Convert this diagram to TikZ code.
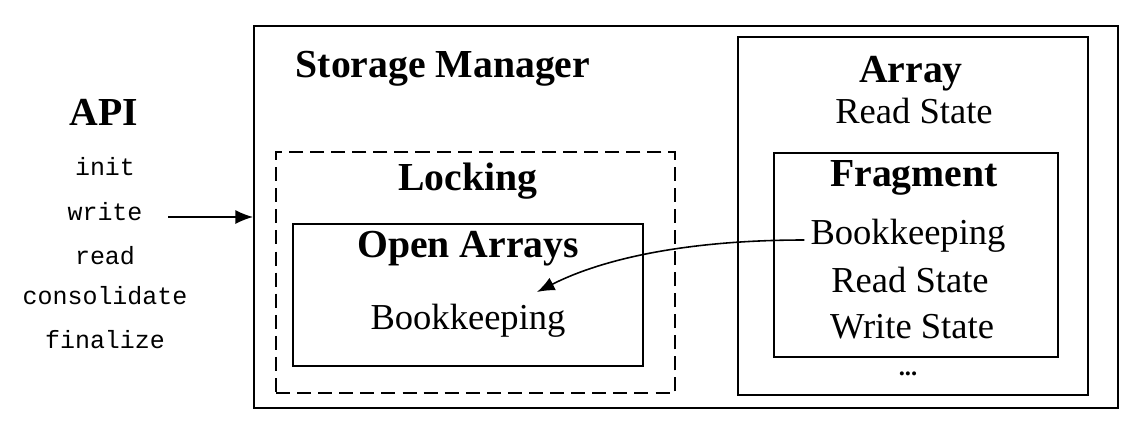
\documentclass[tikz,border=0pt]{standalone}
\usepackage{fontspec}
\setmainfont{Liberation Serif}
\setmonofont{Liberation Mono}
\usepackage{tikz}
\usetikzlibrary{fit, arrows.meta}

\begin{document}
\begin{tikzpicture}[x=0.02cm, y=-0.02cm,
	box/.style={draw, inner sep=0pt, line width=0.8pt},
	title/.style={font=\fontsize{22.6}{26}\selectfont\bfseries},
	txt/.style={font=\fontsize{20.8}{24}\selectfont},
	call/.style={font=\fontsize{14.2}{17}\selectfont\ttfamily},
	arr/.style={-{Latex[length=10pt, width=8pt]}, line width=0.9pt}]
	\useasboundingbox (0,0) rectangle (1143,433);
	% boxes
	\node[box, line width=1.1pt, fit={(254,26) (1118,408)}] (sm) {};
	\node[box, fit={(738,37) (1088,395)}] (arr) {};
	\node[box, fit={(774,153) (1058,357)}] (frag) {};
	\node[box, dashed, dash pattern=on 8pt off 4pt, fit={(276,152) (675,393)}] (lock) {};
	\node[box, fit={(293,224) (643,366)}] (open) {};
	% API
	\node[title] (api) at (104,112) {API};
	\node[call] (init) at (105,167) {init};
	\node[call] (write) at (105,212) {write};
	\node[call] (read) at (105,256) {read};
	\node[call] (cons) at (105,296) {consolidate};
	\node[call] (fin) at (105,340) {finalize};
	% storage manager
	\node[title] (smt) at (443,69) {Storage Manager};
	\node[title] (lockt) at (468,181) {Locking};
	\node[title] (opent) at (468,249) {Open Arrays};
	\node[txt] (obk) at (468,321) {Bookkeeping};
	\node[title] (arrt) at (911,74) {Array};
	\node[txt] (ars) at (914,111) {Read State};
	\node[title] (fragt) at (914,178) {Fragment};
	\node[txt] (fbk) at (908,236) {Bookkeeping};
	\node[txt] (frs) at (910,280) {Read State};
	\node[txt] (fws) at (912,327) {Write State};
	\node[title, font=\fontsize{14}{16}\selectfont\bfseries] (dots) at (908,374) {...};
	% arrows
	\coordinate (wstart) at (168,217);
	\draw[arr] (wstart) -- (sm.west |- wstart);
	\coordinate (btip) at (537,292);
	\draw[arr] (fbk.west |- 0,240) .. controls (700,240) and (610,255) .. (btip);
\end{tikzpicture}
\end{document}
